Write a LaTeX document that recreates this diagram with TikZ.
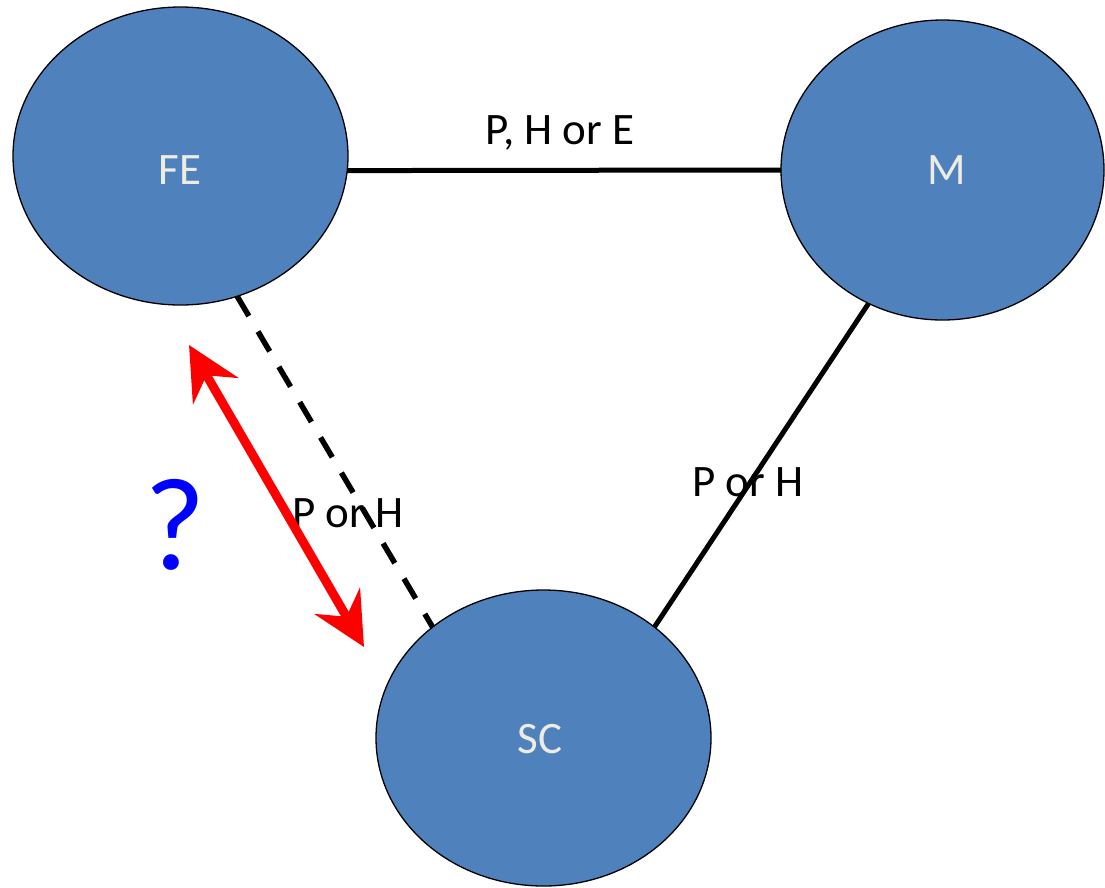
\documentclass[tikz,border=0pt]{standalone}
\usepackage{fontspec}
\setmainfont{Carlito}
\usetikzlibrary{arrows.meta,shapes.geometric}
\definecolor{bubblefill}{HTML}{4F81BD}
\definecolor{bubbletext}{HTML}{EEECE1}
\begin{document}
\begin{tikzpicture}[x=1pt,y=-1pt,
  bubble/.style={ellipse, draw=black, line width=1.3pt, fill=bubblefill, inner sep=0pt, outer sep=0pt},
  bubblelabel/.style={text=bubbletext, font=\fontsize{45}{54}\selectfont, anchor=base, inner sep=0pt},
  edgelabel/.style={text=black, font=\fontsize{45}{54}\selectfont, anchor=base, inner sep=0pt},
  link/.style={line width=5pt, draw=black},
  dashlink/.style={line width=5.5pt, draw=black, dash pattern=on 23pt off 18pt},
  redarrow/.style={line width=9pt, draw=red, {Stealth[length=53pt,width=52pt,inset=18pt]}-{Stealth[length=53pt,width=52pt,inset=18pt]}},
]
\useasboundingbox (0,0) rectangle (1105,887);
\fill[white] (0,0) rectangle (1105,887);
\node[bubble, minimum width=335pt, minimum height=298pt] (FE) at (180.5,156) {};
\node[bubble, minimum width=323pt, minimum height=300pt] (M) at (942.5,170) {};
\node[bubble, minimum width=335pt, minimum height=296pt] (SC) at (543.5,738) {};
\node[bubblelabel] (FElab) at (180,184) {FE};
\node[bubblelabel] (Mlab) at (947,184) {M};
\node[bubblelabel] (SClab) at (540,753) {SC};
\draw[link] (FE.-5) -- (M.west);
\draw[link] (M.241) -- (SC.45);
\draw[dashlink] (FE.292) -- (SC.135);
\node[edgelabel] (l1) at (560,144) {P, H or E};
\node[edgelabel] (l2) at (748,496) {P or H};
\node[edgelabel] (l3) at (348,527) {P or H};
\coordinate (A) at (189,345);
\coordinate (B) at (364,647);
\draw[redarrow] (A) -- (B);
\node[text=blue, font=\fontsize{132}{132}\selectfont, anchor=base, inner sep=0pt] (Q) at (175,569) {?};
\end{tikzpicture}
\end{document}
